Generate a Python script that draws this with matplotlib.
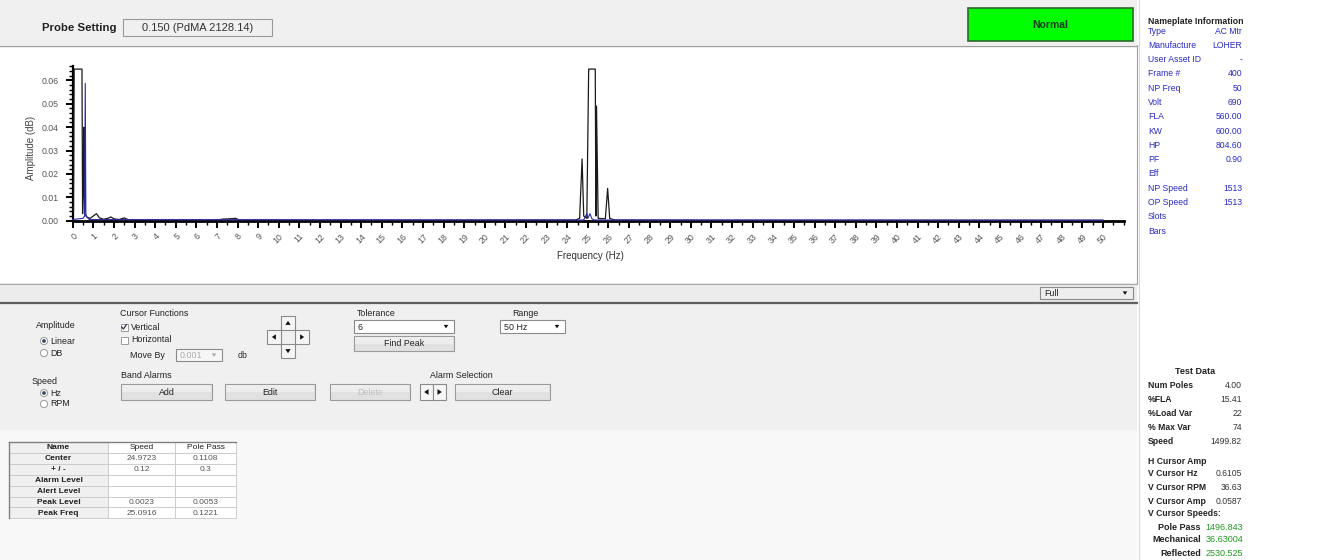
import matplotlib
matplotlib.use("Agg")
import matplotlib.pyplot as plt
from matplotlib.patches import Rectangle, Circle, Polygon
from matplotlib.ticker import MultipleLocator
from matplotlib import font_manager
import logging

logging.getLogger('matplotlib.font_manager').setLevel(logging.ERROR)
plt.rcParams['font.family'] = ['Liberation Sans', 'DejaVu Sans']

_names = {f.name for f in font_manager.fontManager.ttflist}
NARROW = ['Liberation Sans Narrow'] if 'Liberation Sans Narrow' in _names else ['Liberation Sans']
NARROW_SCALE = 1.0 if NARROW[0] == 'Liberation Sans Narrow' else 0.86

# ---------------- data ----------------
probe_setting = "0.150 (PdMA 2128.14)"
status_text = "Normal"

black_hz = [0.00, 0.04, 0.07, 0.45, 0.48, 0.52, 0.55, 0.58, 0.70, 0.85,
            1.00, 1.15, 1.30, 1.50, 1.70, 1.85, 2.00, 2.25, 2.50, 2.70, 3.20, 5.00,
            7.00, 7.30, 7.60, 7.90, 8.10, 12.0, 18.0, 24.40, 24.60, 24.72, 24.80,
            24.95, 25.04, 25.36, 25.39, 25.42, 25.50, 25.85, 25.96, 26.06, 26.30,
            32.0, 40.0, 50.0]
black_amp = [0.0056, 0.0040, 0.0648, 0.0648, 0.0030, 0.0150, 0.0400, 0.0030, 0.0015, 0.0010,
             0.0020, 0.0030, 0.0012, 0.0006, 0.0010, 0.0016, 0.0008, 0.0005, 0.0012, 0.0004,
             0.0003, 0.0002, 0.0003, 0.0007, 0.0008, 0.0010, 0.0003, 0.0002, 0.0002, 0.0003,
             0.0010, 0.0264, 0.0020, 0.0010, 0.0648, 0.0648, 0.0020, 0.0490, 0.0010, 0.0008,
             0.0138, 0.0010, 0.0003, 0.0002, 0.0002, 0.0002]

blue_hz = [0.00, 0.50, 0.58, 0.61, 0.64, 0.80, 24.80, 24.95, 25.00, 25.10, 25.20, 25.30, 50.0]
blue_amp = [0.0005, 0.0010, 0.0020, 0.0587, 0.0020, 0.0005, 0.0003, 0.0030, 0.0010,
            0.0030, 0.0008, 0.0003, 0.0002]

y_ticks = [0.00, 0.01, 0.02, 0.03, 0.04, 0.05, 0.06]
x_ticks = list(range(0, 51))

nameplate_labels = ["Type", "Manufacture", "User Asset ID", "Frame #", "NP Freq", "Volt",
                    "FLA", "KW", "HP", "PF", "Eff", "NP Speed", "OP Speed", "Slots", "Bars"]
nameplate_values = ["AC Mtr", "LOHER", "-", "400", "50", "690", "560.00", "600.00",
                    "804.60", "0.90", "", "1513", "1513", "", ""]

test_labels = ["Num Poles", "%FLA", "%Load Var", "% Max Var", "Speed", "H Cursor Amp",
               "V Cursor Hz", "V Cursor RPM", "V Cursor Amp", "V Cursor Speeds:"]
test_values = ["4.00", "15.41", "22", "74", "1499.82", "", "0.6105", "36.63", "0.0587", ""]
speed_labels = ["Pole Pass", "Mechanical", "Reflected"]
speed_values = ["1496.843", "36.63004", "2530.525"]

table_rows = ["Name", "Center", "+ / -", "Alarm Level", "Alert Level", "Peak Level", "Peak Freq"]
table_speed = ["Speed", "24.9723", "0.12", "", "", "0.0023", "25.0916"]
table_pole = ["Pole Pass", "0.1108", "0.3", "", "", "0.0053", "0.1221"]

# ---------------- figure ----------------
W, H = 1319, 560
fig = plt.figure(figsize=(W / 100, H / 100), dpi=100)
bg = fig.add_axes([0, 0, 1, 1])
bg.set_xlim(0, W)
bg.set_ylim(H, 0)
bg.axis('off')

FS = 7.4
BLUE = '#2a2ac8'
GREEN = '#1f9a1f'


def txt(x, y, s, size=FS, color='#222222', ha='left', weight='normal', z=5, narrow=True, **kw):
    fam = NARROW + ['DejaVu Sans'] if narrow else ['Liberation Sans', 'DejaVu Sans']
    sz = size * NARROW_SCALE if narrow else size
    bg.text(x, y, s, fontsize=sz, color=color, ha=ha, va='center', fontweight=weight,
            zorder=z, family=fam, **kw)


def rect(x0, y0, x1, y1, fc, ec='none', lw=0.8, z=1):
    bg.add_patch(Rectangle((x0, y0), x1 - x0, y1 - y0, facecolor=fc, edgecolor=ec, lw=lw, zorder=z))


def button(x0, y0, x1, y1, label, disabled=False):
    rect(x0, y0, x1, y1, '#e1e1e1', '#9a9a9a', 0.8, 3)
    rect(x0 + 1, y0 + 1, x1 - 1, (y0 + y1) / 2, '#ededed', 'none', 0, 3)
    txt((x0 + x1) / 2, (y0 + y1) / 2 + 0.5, label, color='#c0c0c0' if disabled else '#222222', ha='center')


def tri(cx, cy, direction, s=3.0, color='#111111'):
    if direction == 'up':
        pts = [(cx - s, cy + s * 0.7), (cx + s, cy + s * 0.7), (cx, cy - s * 0.8)]
    elif direction == 'down':
        pts = [(cx - s, cy - s * 0.7), (cx + s, cy - s * 0.7), (cx, cy + s * 0.8)]
    elif direction == 'left':
        pts = [(cx + s * 0.7, cy - s), (cx + s * 0.7, cy + s), (cx - s * 0.8, cy)]
    else:
        pts = [(cx - s * 0.7, cy - s), (cx - s * 0.7, cy + s), (cx + s * 0.8, cy)]
    bg.add_patch(Polygon(pts, closed=True, facecolor=color, edgecolor='none', zorder=6))


def radio(x, y, label, checked):
    bg.add_patch(Circle((x, y), 3.6, facecolor='white', edgecolor='#9a9a9a', lw=0.7, zorder=5))
    if checked:
        bg.add_patch(Circle((x, y), 1.9, facecolor='#3a4a6a', edgecolor='none', zorder=6))
    txt(x + 6, y, label)


def checkbox(x, y, label, checked):
    rect(x - 3.5, y - 3.5, x + 3.5, y + 3.5, 'white', '#9a9a9a', 0.7, 5)
    if checked:
        bg.plot([x - 2.2, x - 0.6, x + 2.4], [y, y + 2.0, y - 2.4], color='#334', lw=0.9, zorder=6)
    txt(x + 7, y, label)


def dropdown(x0, y0, x1, y1, label, fc='white', tc='#222222', ac='#111111'):
    rect(x0, y0, x1, y1, fc, '#8a8a8a', 0.8, 3)
    txt(x0 + 4, (y0 + y1) / 2 + 0.5, label, color=tc)
    tri(x1 - 8, (y0 + y1) / 2, 'down', s=2.3, color=ac)


# ---------------- backgrounds ----------------
rect(0, 0, W, H, 'white', z=0)
rect(0, 0, 1137, 45, '#f0f0f0', z=1)
bg.plot([0, 1137], [45.5, 45.5], color='#a0a0a0', lw=1.0, zorder=2)
bg.plot([1136.5, 1136.5], [45, 283], color='#a0a0a0', lw=0.8, zorder=2)
rect(0, 283, 1137, 303, '#ececec', z=1)
bg.plot([0, 1137], [283.5, 283.5], color='#a8a8a8', lw=0.8, zorder=2)
bg.plot([0, 1137], [302.5, 302.5], color='#606060', lw=1.6, zorder=2)
rect(0, 304, 1137, 430, '#f0f0f0', z=1)
rect(0, 430, 1137, H, '#f8f8f8', z=1)
bg.plot([1138.5, 1138.5], [0, H], color='#d8d8d8', lw=0.8, zorder=2)

# top bar
txt(42, 28, "Probe Setting", weight='bold', size=8.2, narrow=False)
rect(123, 19, 272, 36, '#f0f0f0', '#9a9a9a', 0.8, 3)
txt(198, 28, probe_setting, ha='center', color='#333333', size=8.0, narrow=False)
rect(968, 8, 1133, 41, '#00ff00', '#2a6a2a', 1.2, 3)
txt(1050, 24.5, status_text, ha='center', weight='bold', size=7.5, color='#1a3a1a', narrow=False)

# Full dropdown on gray bar
dropdown(1040, 287, 1133, 299, "Full", fc='#eeeeee')

# ---------------- spectrum plot ----------------
px0, px1 = 72.7, 1123.6
py0, py1 = 220.7, 66.3
ax = fig.add_axes([px0 / W, 1 - py0 / H, (px1 - px0) / W, (py0 - py1) / H])
ax.set_facecolor('none')
ax.set_zorder(3)
ax.set_xlim(0, 51)
ax.set_ylim(0, 0.0660)
ax.plot(black_hz, black_amp, color='#1a1a1a', lw=0.9, zorder=3, clip_on=False)
ax.plot(blue_hz, blue_amp, color='#2b2ba8', lw=0.8, zorder=4, clip_on=False)
for s in ['top', 'right']:
    ax.spines[s].set_visible(False)
ax.spines['bottom'].set_linewidth(2.0)
ax.spines['left'].set_linewidth(1.6)
ax.set_yticks(y_ticks)
ax.set_yticklabels(["%.2f" % v for v in y_ticks])
ax.yaxis.set_minor_locator(MultipleLocator(0.002))
ax.set_xticks(x_ticks)
ax.set_xticklabels([str(v) for v in x_ticks], rotation=45, ha='right', rotation_mode='anchor')
ax.xaxis.set_minor_locator(MultipleLocator(0.5))
ax.tick_params(axis='both', which='major', length=5, width=1.4, labelsize=6.3, labelcolor='#555555', pad=3)
ax.tick_params(axis='y', which='major', pad=5)
ax.tick_params(axis='both', which='minor', length=3, width=1.0)
txt(590, 256, "Frequency (Hz)", ha='center', size=7, color='#333333', narrow=False)
txt(31, 148, "Amplitude (dB)", ha='center', size=7, color='#444444', rotation=90, narrow=False)

# ---------------- controls ----------------
txt(36, 325, "Amplitude")
radio(44, 341, "Linear", True)
radio(44, 353, "DB", False)
txt(32, 381, "Speed")
radio(44, 393, "Hz", True)
radio(44, 404, "RPM", False)

txt(120, 314, "Cursor Functions")
checkbox(124, 327, "Vertical", True)
checkbox(124, 340, "Horizontal", False)
txt(130, 355, "Move By")
dropdown(176, 349, 222, 361, "0.001", fc='#f6f6f6', tc='#aaaaaa', ac='#aaaaaa')
txt(238, 355, "db")

# arrow pad
cell = 14
cx, cy = 288, 337
for (dx, dy, d) in [(0, -1, 'up'), (0, 1, 'down'), (-1, 0, 'left'), (1, 0, 'right')]:
    x0 = cx - cell / 2 + dx * cell
    y0 = cy - cell / 2 + dy * cell
    rect(x0, y0, x0 + cell, y0 + cell, '#f6f6f6', '#8a8a8a', 0.8, 4)
    tri(x0 + cell / 2, y0 + cell / 2, d, s=2.7)

txt(357, 313, "Tolerance")
dropdown(354, 320, 454, 333, "6")
button(354, 336, 454, 351, "Find Peak")
txt(512, 313, "Range")
dropdown(500, 320, 565, 333, "50 Hz")

txt(121, 375, "Band Alarms")
button(121, 384, 212, 400, "Add")
button(225, 384, 315, 400, "Edit")
button(330, 384, 410, 400, "Delete", disabled=True)
txt(430, 375, "Alarm Selection")
rect(420, 384, 433, 400, '#f6f6f6', '#8a8a8a', 0.8, 4)
rect(433, 384, 446, 400, '#f6f6f6', '#8a8a8a', 0.8, 4)
tri(426.5, 392, 'left', s=2.9)
tri(439.5, 392, 'right', s=2.9)
button(455, 384, 550, 400, "Clear")

# ---------------- table ----------------
tx = [9, 108, 175, 236]
ty0, rh = 442, 10.9
for i, name in enumerate(table_rows):
    y0 = ty0 + i * rh
    rect(tx[0], y0, tx[1], y0 + rh, '#f0f0f0', '#c8c8c8', 0.6, 3)
    rect(tx[1], y0, tx[2], y0 + rh, 'white', '#c8c8c8', 0.6, 3)
    rect(tx[2], y0, tx[3], y0 + rh, 'white', '#c8c8c8', 0.6, 3)
    txt((tx[0] + tx[1]) / 2, y0 + rh / 2 + 0.5, name, ha='center', weight='bold', size=7.0)
    txt((tx[1] + tx[2]) / 2, y0 + rh / 2 + 0.5, table_speed[i], ha='center', size=7.0,
        color='#222222' if i == 0 else '#555555')
    txt((tx[2] + tx[3]) / 2, y0 + rh / 2 + 0.5, table_pole[i], ha='center', size=7.0,
        color='#222222' if i == 0 else '#555555')
bg.plot([tx[0], tx[0]], [ty0, ty0 + rh * len(table_rows)], color='#808080', lw=1.0, zorder=4)
bg.plot([tx[0], tx[3]], [ty0, ty0], color='#808080', lw=1.0, zorder=4)

# ---------------- right panel ----------------
nx0, nx1 = 1148, 1242
txt(nx0, 22, "Nameplate Information", weight='bold', size=7.3)
for i, (lab, val) in enumerate(zip(nameplate_labels, nameplate_values)):
    y = 31 + i * 14.3
    txt(nx0, y, lab, color=BLUE, size=7.2)
    if val:
        txt(nx1, y, val, color=BLUE, ha='right', size=7.2)

tx0, tx1 = 1148, 1242
txt(1195, 371, "Test Data", weight='bold', ha='center', size=7.5)
test_y = [385, 399, 413, 427, 442, 461, 474, 488, 501, 514]
for lab, val, y in zip(test_labels, test_values, test_y):
    txt(tx0, y, lab, weight='bold', size=7.2)
    if val:
        txt(tx1, y, val, ha='right', color='#333333', size=7.2)
speed_y = [527, 540, 553]
for lab, val, y in zip(speed_labels, speed_values, speed_y):
    txt(1201, y, lab, weight='bold', ha='right', size=7.5)
    txt(tx1 + 1, y, val, ha='right', color=GREEN, size=7.5)

fig.savefig("out.png", dpi=100)
